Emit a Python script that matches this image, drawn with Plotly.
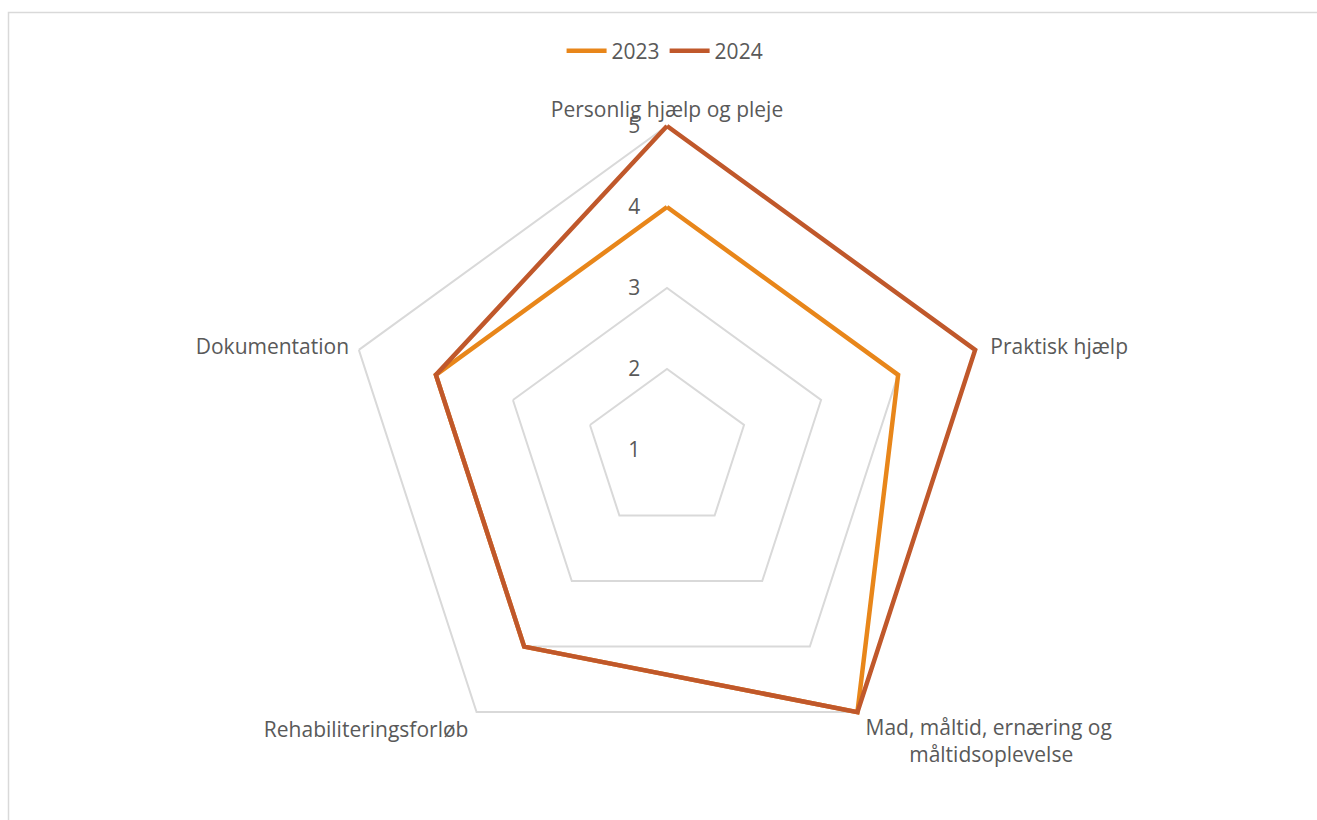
import plotly.graph_objects as go

NB = "\u00a0"
categories = ["Personlig hjælp og pleje",
              NB * 2 + "Praktisk hjælp",
              NB + "Mad, måltid, ernæring og<br>" + NB * 9 + "måltidsoplevelse",
              "Rehabiliteringsforløb" + NB,
              "Dokumentation" + NB]
series_names = ["2023", "2024"]
values_2023 = [4, 4, 5, 4, 4]
values_2024 = [5, 5, 5, 4, 4]
radial_ticks = [1, 2, 3, 4, 5]

colors = ["#E8861A", "#C0582B"]
W, H = 1317, 820
FONT = "Open Sans"
TXT = "#595959"
GRID = "#D9D9D9"

fig = go.Figure()
for name, vals, col in zip(series_names, [values_2023, values_2024], colors):
    fig.add_trace(go.Scatterpolar(
        r=vals + vals[:1], theta=categories + categories[:1],
        mode="lines", name=name,
        line=dict(color=col, width=4.5, shape="linear"),
    ))

rmin, rmax_data, ext = 1, 5, 0.05
cx, cy, R5 = 667, 450, 324
R = R5 * (rmax_data + ext - rmin) / (rmax_data - rmin)
fig.update_layout(
    width=W, height=H,
    margin=dict(l=0, r=0, t=0, b=0),
    paper_bgcolor="white",
    font=dict(family=FONT, size=21, color=TXT),
    legend=dict(orientation="h", x=0.505, xanchor="center", y=1 - 51 / H, yanchor="middle",
                font=dict(size=21, color=TXT), itemwidth=40, tracegroupgap=0),
    polar=dict(
        domain=dict(x=[(cx - R) / W, (cx + R) / W], y=[(H - cy - R) / H, (H - cy + R) / H]),
        bgcolor="rgba(0,0,0,0)",
        gridshape="linear",
        radialaxis=dict(range=[rmin, rmax_data + ext], tickvals=radial_ticks, angle=90, tickangle=90,
                        showline=False, ticks="outside", ticklen=19, tickcolor="rgba(0,0,0,0)",
                        gridcolor=GRID, gridwidth=1.5,
                        tickfont=dict(size=21, color=TXT), side="counterclockwise"),
        angularaxis=dict(direction="clockwise", rotation=90, showgrid=False,
                         showline=False, ticks="",
                         tickfont=dict(size=21, color=TXT)),
    ),
    shapes=[dict(type="rect", xref="paper", yref="paper", x0=8.5 / W, x1=1.02, y0=-0.02,
                 y1=1 - 12.5 / H, line=dict(color=GRID, width=1.5), fillcolor="rgba(0,0,0,0)")],
)

fig.write_html("out.html", config={"displayModeBar": False},
               post_script="document.body.style.margin='0px';")
